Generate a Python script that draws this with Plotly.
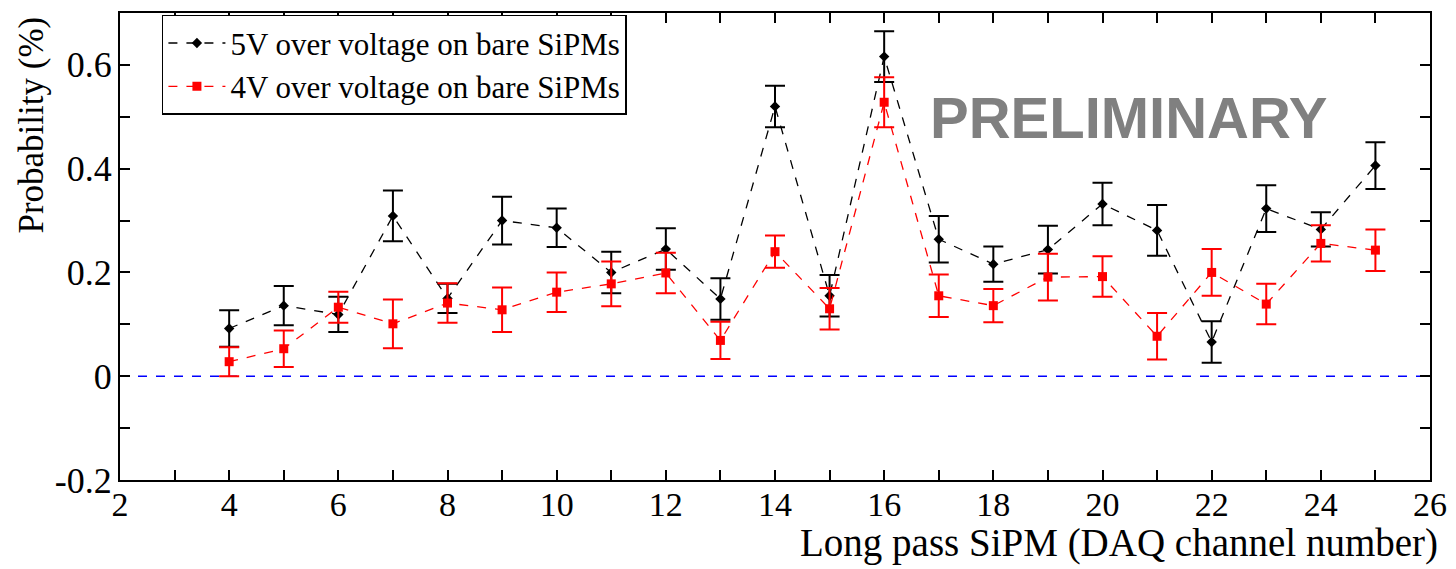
import plotly.graph_objects as go

channels = list(range(4, 26))

v5_vals = [0.092, 0.136, 0.119, 0.309, 0.150, 0.300, 0.286, 0.200, 0.245, 0.149, 0.520,
           0.155, 0.616, 0.264, 0.216, 0.244, 0.332, 0.281, 0.066, 0.323, 0.283, 0.406]
v5_errs = [0.035, 0.038, 0.034, 0.049, 0.028, 0.046, 0.037, 0.040, 0.040, 0.040, 0.040,
           0.040, 0.049, 0.045, 0.034, 0.046, 0.041, 0.049, 0.040, 0.045, 0.033, 0.045]

v4_vals = [0.028, 0.053, 0.133, 0.101, 0.141, 0.128, 0.162, 0.178, 0.199, 0.069, 0.240,
           0.130, 0.528, 0.155, 0.136, 0.191, 0.192, 0.077, 0.200, 0.139, 0.256, 0.243]
v4_errs = [0.028, 0.035, 0.030, 0.047, 0.038, 0.043, 0.038, 0.043, 0.039, 0.036, 0.031,
           0.040, 0.048, 0.041, 0.032, 0.045, 0.039, 0.045, 0.045, 0.039, 0.035, 0.040]

x_range = [2, 26]
y_range = [-0.2, 0.7]
baseline_x = [2, 26]
baseline_y = [0, 0]

serif = "Liberation Serif, Times New Roman, serif"

fig = go.Figure()

fig.add_trace(go.Scatter(
    x=baseline_x, y=baseline_y, mode="lines",
    line=dict(color="#0000ff", width=1.5, dash="dash"),
    showlegend=False, hoverinfo="skip"))

fig.add_trace(go.Scatter(
    x=channels, y=v5_vals, mode="lines+markers",
    name="5V over voltage on bare SiPMs",
    line=dict(color="black", width=1.3, dash="dash"),
    marker=dict(symbol="diamond", size=8, color="black"),
    error_y=dict(type="data", array=v5_errs, color="black", thickness=2, width=10)))

fig.add_trace(go.Scatter(
    x=channels, y=v4_vals, mode="lines+markers",
    name="4V over voltage on bare SiPMs",
    line=dict(color="#ff0000", width=1.3, dash="dash"),
    marker=dict(symbol="square", size=9, color="#ff0000"),
    error_y=dict(type="data", array=v4_errs, color="#ff0000", thickness=2, width=10)))

axis_common = dict(
    showline=True, linecolor="black", linewidth=2, mirror="ticks",
    ticks="inside", ticklen=10, tickwidth=1.5, tickcolor="black",
    showgrid=False, zeroline=False,
)

fig.update_xaxes(range=x_range, dtick=2, tick0=2,
                 tickfont=dict(family=serif, size=34, color="black"),
                 ticklabelstandoff=-7,
                 minor=dict(dtick=1, ticks="inside", ticklen=10, tickwidth=1.5, tickcolor="black"),
                 **axis_common)
fig.update_yaxes(range=y_range,
                 tickvals=[-0.2, 0, 0.2, 0.4, 0.6], ticktext=["-0.2", "0", "0.2", "0.4", "0.6"],
                 tickfont=dict(family=serif, size=36, color="black"),
                 ticklabelstandoff=-1,
                 minor=dict(tickvals=[-0.1, 0.1, 0.3, 0.5], ticks="inside", ticklen=10,
                            tickwidth=1.5, tickcolor="black"),
                 **axis_common)

fig.update_layout(
    width=1448, height=561,
    margin=dict(l=112, r=26, t=3, b=89),
    plot_bgcolor="white", paper_bgcolor="white",
    showlegend=True,
    legend=dict(x=0.032, y=0.996, xanchor="left", yanchor="top",
                bgcolor="white", bordercolor="black", borderwidth=1.5,
                font=dict(family=serif, size=31, color="black"),
                tracegroupgap=0, itemwidth=57),
    annotations=[
        dict(text="Long pass SiPM (DAQ channel number)", x=1, y=0, xref="paper", yref="paper",
             xanchor="right", yanchor="middle", yshift=-63, xshift=10, showarrow=False,
             font=dict(family=serif, size=39, color="black")),
        dict(text="Probability (%)", x=-0.0672, y=0.761, xref="paper", yref="paper",
             xanchor="center", yanchor="middle", textangle=-90, showarrow=False,
             font=dict(family=serif, size=35, color="black")),
        dict(text="<b>PRELIMINARY</b>", x=20.47, y=0.4985, xref="x", yref="y",
             xanchor="center", yanchor="middle", showarrow=False,
             font=dict(family="Liberation Sans, Arial, sans-serif", size=58, color="#808080")),
    ],
)

fig.write_html("out.html")
